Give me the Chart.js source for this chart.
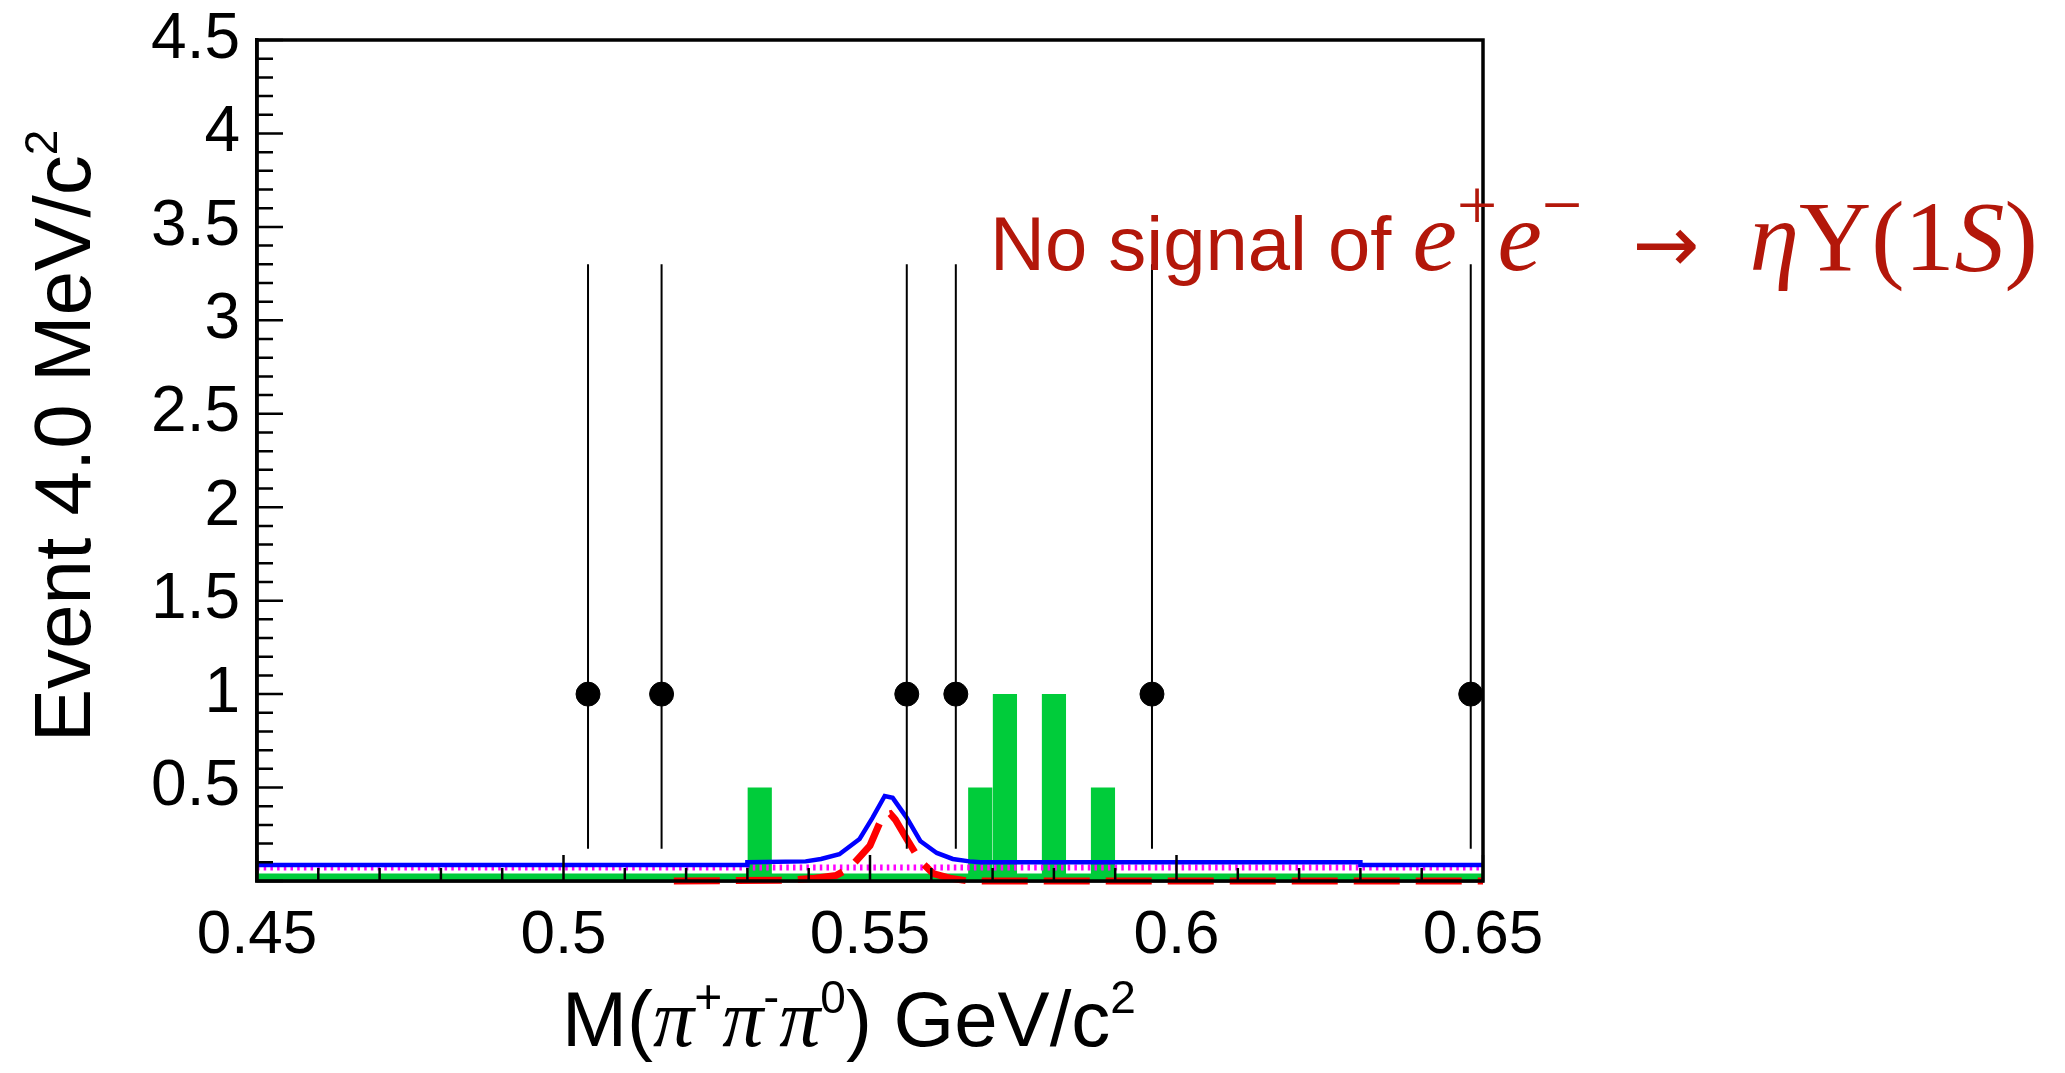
<!DOCTYPE html>
<html>
<head>
<meta charset="utf-8">
<script src="https://cdn.jsdelivr.net/npm/chart.js@4.4.1/dist/chart.umd.min.js"></script>
<style>
  html, body { margin: 0; padding: 0; background: #fff; }
</style>
</head>
<body>
<canvas id="chart" width="2065" height="1073"></canvas>
<script>
// datos
const dataMass = [0.504, 0.516, 0.556, 0.564, 0.596, 0.648];
const dataCount = [1, 1, 1, 1, 1, 1];
const errDown = [0.827, 0.827, 0.827, 0.827, 0.827, 0.827];
const errUp = [2.30, 2.30, 2.30, 2.30, 2.30, 2.30];

// histograma verde (bins de 4 MeV)
const binWidth = 0.004;
const greenBinLow = [0.530, 0.566, 0.570, 0.578, 0.586];
const greenHeight = [0.5, 0.5, 1, 1, 0.5];
const greenFloor = 0.04;

// curva total (azul)
const totalX = [0.450, 0.530, 0.530, 0.5395, 0.5420, 0.5450, 0.5483, 0.5504, 0.5524, 0.5537, 0.5560, 0.5582, 0.5609, 0.5635, 0.5662, 0.5680, 0.6300, 0.6300, 0.650];
const totalY = [0.085, 0.085, 0.100, 0.105, 0.118, 0.143, 0.225, 0.338, 0.455, 0.445, 0.338, 0.214, 0.150, 0.118, 0.105, 0.100, 0.100, 0.085, 0.085];

// señal (roja, discontinua)
const signalX = [0.518, 0.537, 0.541, 0.5445, 0.5467, 0.5500, 0.5521, 0.5533, 0.5541, 0.5560, 0.5582, 0.5603, 0.5630, 0.5660, 0.650];
const signalY = [0.0, 0.005, 0.015, 0.03, 0.07, 0.19, 0.35, 0.36, 0.33, 0.225, 0.107, 0.04, 0.015, 0.0, 0.0];

// fondo (magenta, punteado)
const bkgX = [0.450, 0.650];
const bkgY = [0.072, 0.072];

const xMin = 0.45, xMax = 0.65, yMin = 0, yMax = 4.5;

const pts = (xs, ys) => xs.map((x, i) => ({ x: x, y: ys[i] }));

const errPoints = [];
dataMass.forEach((m, i) => {
    errPoints.push({ x: m, y: dataCount[i] - errDown[i] });
    errPoints.push({ x: m, y: dataCount[i] + errUp[i] });
    errPoints.push({ x: m, y: null });
});

const greenPoints = [];
greenBinLow.forEach((lo, i) => {
    greenPoints.push({ x: lo, y: greenFloor });
    greenPoints.push({ x: lo, y: greenHeight[i] });
    greenPoints.push({ x: lo + binWidth, y: greenHeight[i] });
    greenPoints.push({ x: lo + binWidth, y: greenFloor });
    greenPoints.push({ x: lo + binWidth, y: null });
});

const GREEN = '#00cc3a';
const RED_TXT = '#b3170a';
const SANS = '"Liberation Sans", Arial, sans-serif';
const SERIF = '"Liberation Serif", "Times New Roman", serif';

// texto con trozos de distintas fuentes (superíndices, cursiva)
function drawRuns(ctx, runs, x, y, align) {
    let total = 0;
    runs.forEach(r => { ctx.font = r.font; total += ctx.measureText(r.t).width; });
    let cx = align === 'center' ? x - total / 2 : x;
    runs.forEach(r => {
        ctx.font = r.font;
        ctx.fillText(r.t, cx, y - (r.up || 0));
        cx += ctx.measureText(r.t).width;
    });
}

const xTitleRuns = [
    { t: 'M(', font: `78px ${SANS}` },
    { t: 'π', font: `italic 82px ${SERIF}` },
    { t: '+', font: `48px ${SANS}`, up: 33 },
    { t: 'π', font: `italic 82px ${SERIF}` },
    { t: '-', font: `48px ${SANS}`, up: 33 },
    { t: 'π', font: `italic 82px ${SERIF}` },
    { t: '0', font: `46px ${SANS}`, up: 33 },
    { t: ') GeV/c', font: `78px ${SANS}` },
    { t: '2', font: `46px ${SANS}`, up: 33 }
];

const yTitleRuns = [
    { t: 'Event 4.0 MeV/c', font: `80px ${SANS}` },
    { t: '2', font: `46px ${SANS}`, up: 33 }
];

const noteRuns = [
    { t: 'No signal of ', font: `76px ${SANS}` },
    { t: 'e', font: `italic 100px ${SERIF}` },
    { t: '+', font: `72px ${SERIF}`, up: 41 },
    { t: 'e', font: `italic 100px ${SERIF}` },
    { t: '−', font: `72px ${SERIF}`, up: 41 },
    { t: '  ', font: `100px ${SERIF}` },
    { t: '→', font: `80px "DejaVu Sans", sans-serif`, up: -2 },
    { t: '  ', font: `100px ${SERIF}` },
    { t: 'η', font: `italic 100px ${SERIF}` },
    { t: 'Υ(1', font: `100px ${SERIF}` },
    { t: 'S', font: `italic 100px ${SERIF}` },
    { t: ')', font: `100px ${SERIF}` }
];

// ticks hacia adentro, marco y textos
const framePlugin = {
    id: 'frame',
    afterDatasetsDraw(chart) {
        const { ctx, chartArea: a, scales: { x, y } } = chart;
        ctx.save();
        ctx.strokeStyle = '#000';
        ctx.lineWidth = 2.5;
        ctx.beginPath();
        for (let k = 0; k <= 20; k++) {
            const v = xMin + k * 0.01;
            const px = x.getPixelForValue(v);
            const len = (k % 5 === 0) ? 26 : 13;
            ctx.moveTo(px, a.bottom);
            ctx.lineTo(px, a.bottom - len);
        }
        for (let k = 0; k <= 45; k++) {
            const v = k * 0.1;
            const py = y.getPixelForValue(v);
            const len = (k % 5 === 0) ? 26 : 16;
            ctx.moveTo(a.left, py);
            ctx.lineTo(a.left + len, py);
        }
        ctx.stroke();
        ctx.lineWidth = 3.5;
        ctx.strokeRect(a.left, a.top, a.right - a.left, a.bottom - a.top);

        // títulos de los ejes
        ctx.fillStyle = '#000';
        ctx.textBaseline = 'alphabetic';
        ctx.textAlign = 'left';
        drawRuns(ctx, xTitleRuns, 849, 1046, 'center');
        ctx.save();
        ctx.translate(90, 436);
        ctx.rotate(-Math.PI / 2);
        drawRuns(ctx, yTitleRuns, 0, 0, 'center');
        ctx.restore();

        // anotación
        ctx.fillStyle = RED_TXT;
        drawRuns(ctx, noteRuns, 990, 270, 'left');
        ctx.restore();
    }
};

const fmt = v => String(Number(v.toFixed(3)));

new Chart(document.getElementById('chart'), {
    type: 'scatter',
    data: {
        datasets: [
            {
                label: 'Datos',
                data: pts(dataMass, dataCount),
                backgroundColor: '#000',
                borderColor: '#000',
                pointRadius: 12,
                pointHoverRadius: 12,
                showLine: false
            },
            {
                label: 'Errores',
                data: errPoints,
                showLine: true,
                spanGaps: false,
                borderColor: '#000',
                borderWidth: 2,
                pointRadius: 0
            },
            {
                label: 'Señal',
                data: pts(signalX, signalY),
                showLine: true,
                borderColor: '#ff0000',
                borderWidth: 7,
                borderDash: [46, 16],
                pointRadius: 0,
                clip: false
            },
            {
                label: 'Total',
                data: pts(totalX, totalY),
                showLine: true,
                borderColor: '#0000ff',
                borderWidth: 4.5,
                pointRadius: 0
            },
            {
                label: 'Fondo',
                data: pts(bkgX, bkgY),
                showLine: true,
                borderColor: '#ff00ff',
                borderWidth: 6,
                borderDash: [2.5, 4.2],
                pointRadius: 0
            },
            {
                label: 'Histograma',
                data: greenPoints,
                showLine: true,
                spanGaps: false,
                borderWidth: 0,
                borderColor: GREEN,
                backgroundColor: GREEN,
                fill: 'origin',
                pointRadius: 0
            },
            {
                label: 'Base verde',
                data: pts([xMin, xMax], [greenFloor, greenFloor]),
                showLine: true,
                borderWidth: 0,
                borderColor: GREEN,
                backgroundColor: GREEN,
                fill: 'origin',
                pointRadius: 0
            }
        ]
    },
    options: {
        responsive: false,
        animation: false,
        layout: { padding: { top: 40, right: 582, left: 0, bottom: 0 } },
        plugins: {
            legend: { display: false },
            tooltip: { enabled: false }
        },
        scales: {
            x: {
                type: 'linear',
                min: xMin,
                max: xMax,
                afterFit: s => { s.height = 192; },
                border: { display: true, color: '#000', width: 3.5 },
                grid: { display: false, drawTicks: false },
                ticks: {
                    stepSize: 0.05,
                    padding: 18,
                    color: '#000',
                    font: { family: 'Liberation Sans', size: 62 },
                    callback: v => fmt(v)
                }
            },
            y: {
                type: 'linear',
                min: yMin,
                max: yMax,
                afterFit: s => { s.width = 257; s.paddingTop = 0; s.paddingBottom = 0; },
                border: { display: true, color: '#000', width: 3.5 },
                grid: { display: false, drawTicks: false },
                ticks: {
                    stepSize: 0.5,
                    padding: 17,
                    color: '#000',
                    font: { family: 'Liberation Sans', size: 64 },
                    callback: v => (v === 0 ? '' : fmt(v))
                }
            }
        }
    },
    plugins: [framePlugin]
});
</script>
</body>
</html>
